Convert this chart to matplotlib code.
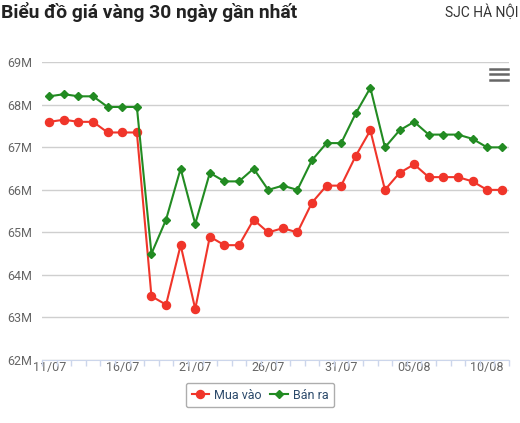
import matplotlib
matplotlib.use("Agg")
import matplotlib.pyplot as plt
from matplotlib.lines import Line2D

plt.rcParams['font.family'] = ['Roboto', 'DejaVu Sans']

# ngay: 11/07 -> 11/08
dates = ["%02d/07" % d for d in range(11, 32)] + ["%02d/08" % d for d in range(1, 12)]

# gia mua vao (trieu dong)
mua_vao = [67.6, 67.65, 67.6, 67.6, 67.35, 67.35, 67.35, 63.5, 63.3, 64.7,
           63.2, 64.9, 64.7, 64.7, 65.3, 65.0, 65.1, 65.0, 65.7, 66.1,
           66.1, 66.8, 67.4, 66.0, 66.4, 66.6, 66.3, 66.3, 66.3, 66.2,
           66.0, 66.0]
# gia ban ra
ban_ra = [68.2, 68.25, 68.2, 68.2, 67.95, 67.95, 67.95, 64.5, 65.3, 66.5,
          65.2, 66.4, 66.2, 66.2, 66.5, 66.0, 66.1, 66.0, 66.7, 67.1,
          67.1, 67.8, 68.4, 67.0, 67.4, 67.6, 67.3, 67.3, 67.3, 67.2,
          67.0, 67.0]

y_ticks = [62, 63, 64, 65, 66, 67, 68, 69]

red = '#f0352a'
green = '#228b22'

W, H = 520, 423
fig = plt.figure(figsize=(W / 100, H / 100), dpi=100)
ax = fig.add_axes([42 / W, 1 - 360 / H, (509 - 42) / W, (360 - 62.3) / H])

x = list(range(len(dates)))
ax.plot(x, mua_vao, color=red, lw=1.5, marker='o', ms=5.8, zorder=3)
ax.plot(x, ban_ra, color=green, lw=1.5, marker='D', ms=4, zorder=3)

ax.set_xlim(-0.5, len(dates) - 0.5)
ax.set_ylim(62, 69)
ax.set_yticks(y_ticks)
ax.set_yticklabels(["%dM" % v for v in y_ticks])
ax.set_xticks(x[::5])
ax.set_xticklabels(dates[::5])
ax.set_xticks([i - 0.5 for i in range(len(dates) + 1)], minor=True)

ax.grid(axis='y', color='#cfcfcf', lw=1)
ax.set_axisbelow(True)
for s in ['top', 'right', 'left']:
    ax.spines[s].set_visible(False)
ax.spines['bottom'].set_color('#ccd6eb')
ax.tick_params(axis='y', length=0, pad=7, labelsize=9, labelcolor='#666666')
ax.tick_params(axis='x', which='major', length=0, pad=1, labelsize=9, labelcolor='#666666')
ax.tick_params(axis='x', which='minor', length=4, color='#ccd6eb', width=1)

fig.text(0.002, 1 - 12 / H, "Biểu đồ giá vàng 30 ngày gần nhất", fontsize=13.9,
         fontweight='bold', color='#222222', va='center', ha='left')
fig.text(0.998, 1 - 12 / H, "SJC HÀ NỘI", fontsize=10, color='#333333',
         va='center', ha='right')

# icon menu
for yy in [69, 74.5, 80]:
    fig.add_artist(Line2D([490 / W, 508 / W], [1 - yy / H, 1 - yy / H],
                          color='#666666', lw=1.8))

handles = [Line2D([], [], color=red, lw=1.5, marker='o', ms=5.8),
           Line2D([], [], color=green, lw=1.5, marker='D', ms=4)]
leg = fig.legend(handles, ["Mua vào", "Bán ra"], loc='center',
                 bbox_to_anchor=(260 / W, 1 - 395 / H), ncol=2, fontsize=9,
                 frameon=True, fancybox=True, edgecolor='#999999',
                 handlelength=1.4, handletextpad=0.4, columnspacing=0.7,
                 borderpad=0.45, borderaxespad=0)
leg.get_frame().set_linewidth(1)
for t in leg.get_texts():
    t.set_color('#2c4a6b')

fig.savefig('out.png', dpi=100)
